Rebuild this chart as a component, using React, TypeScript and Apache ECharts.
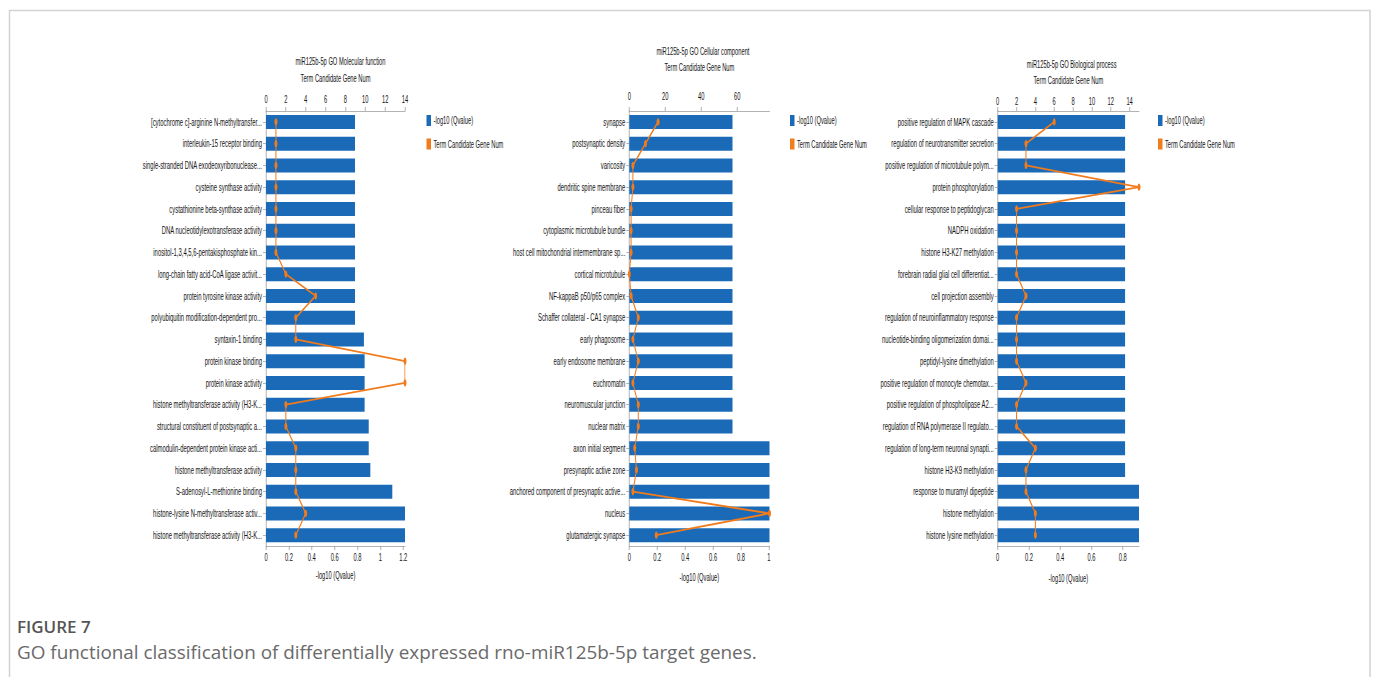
import React, { useEffect, useRef } from "react";
import * as echarts from "echarts";

// ---------- data ----------
const BAR_NAME = "-log10 (Qvalue)";
const LINE_NAME = "Term Candidate Gene Num";

const mfTitle = "miR125b-5p GO Molecular function";
const mfTerms = [
  "[cytochrome c]-arginine N-methyltransfer...",
  "interleukin-15 receptor binding",
  "single-stranded DNA exodeoxyribonuclease...",
  "cysteine synthase activity",
  "cystathionine beta-synthase activity",
  "DNA nucleotidylexotransferase activity",
  "inositol-1,3,4,5,6-pentakisphosphate kin...",
  "long-chain fatty acid-CoA ligase activit...",
  "protein tyrosine kinase activity",
  "polyubiquitin modification-dependent pro...",
  "syntaxin-1 binding",
  "protein kinase binding",
  "protein kinase activity",
  "histone methyltransferase activity (H3-K...",
  "structural constituent of postsynaptic a...",
  "calmodulin-dependent protein kinase acti...",
  "histone methyltransferase activity",
  "S-adenosyl-L-methionine binding",
  "histone-lysine N-methyltransferase activ...",
  "histone methyltransferase activity (H3-K...",
];
const mfQ = [0.778, 0.778, 0.778, 0.778, 0.778, 0.778, 0.778, 0.778, 0.778, 0.778, 0.856, 0.862, 0.862, 0.862, 0.898, 0.898, 0.912, 1.104, 1.215, 1.215];
const mfGenes = [1, 1, 1, 1, 1, 1, 1, 2, 5, 3, 3, 14, 14, 2, 2, 3, 3, 3, 4, 3];

const ccTitle = "miR125b-5p GO Cellular component";
const ccTerms = [
  "synapse",
  "postsynaptic density",
  "varicosity",
  "dendritic spine membrane",
  "pinceau fiber",
  "cytoplasmic microtubule bundle",
  "host cell mitochondrial intermembrane sp...",
  "cortical microtubule",
  "NF-kappaB p50/p65 complex",
  "Schaffer collateral - CA1 synapse",
  "early phagosome",
  "early endosome membrane",
  "euchromatin",
  "neuromuscular junction",
  "nuclear matrix",
  "axon initial segment",
  "presynaptic active zone",
  "anchored component of presynaptic active...",
  "nucleus",
  "glutamatergic synapse",
];
const ccQ = [0.739, 0.739, 0.739, 0.739, 0.739, 0.739, 0.739, 0.739, 0.739, 0.739, 0.739, 0.739, 0.739, 0.739, 0.739, 1.004, 1.004, 1.004, 1.004, 1.004];
const ccGenes = [16, 9, 2, 2, 1, 1, 1, 0, 1, 5, 2, 5, 2, 5, 5, 3, 4, 2, 78, 15];

const bpTitle = "miR125b-5p GO Biological process";
const bpTerms = [
  "positive regulation of MAPK cascade",
  "regulation of neurotransmitter secretion",
  "positive regulation of microtubule polym...",
  "protein phosphorylation",
  "cellular response to peptidoglycan",
  "NADPH oxidation",
  "histone H3-K27 methylation",
  "forebrain radial glial cell differentiat...",
  "cell projection assembly",
  "regulation of neuroinflammatory response",
  "nucleotide-binding oligomerization domai...",
  "peptidyl-lysine dimethylation",
  "positive regulation of monocyte chemotax...",
  "positive regulation of phospholipase A2...",
  "regulation of RNA polymerase II regulato...",
  "regulation of long-term neuronal synapti...",
  "histone H3-K9 methylation",
  "response to muramyl dipeptide",
  "histone methylation",
  "histone lysine methylation",
];
const bpQ = [0.815, 0.815, 0.815, 0.815, 0.815, 0.815, 0.815, 0.815, 0.815, 0.815, 0.815, 0.815, 0.815, 0.815, 0.815, 0.815, 0.815, 0.904, 0.904, 0.904];
const bpGenes = [6, 3, 3, 15, 2, 2, 2, 2, 3, 2, 2, 2, 3, 2, 2, 4, 3, 3, 4, 4];

const captionHead = "FIGURE 7";
const captionText = "GO functional classification of differentially expressed rno-miR125b-5p target genes.";

// ---------- layout (chart is drawn at 2x width, then squeezed by scaleX 0.5) ----------
const SX = 2;
const FONT = "'Liberation Sans', Arial, sans-serif";
const FS = 11.5;
const FS_CAT = 11.8;
const TXT = "#141414";
const AXIS = "#9a9a9a";
const BLUE = "#1a6ab7";
const ORANGE = "#f27b1c";

const panels = [
  {
    title: mfTitle, terms: mfTerms, q: mfQ, genes: mfGenes,
    titleX: 340.5, titleY: 61.7, left: 266, right: 405,
    topInterval: 2, topLabelMargin: 6, topNameGap: 27, bottomNameGap: 23, legendX: 426.5,
  },
  {
    title: ccTitle, terms: ccTerms, q: ccQ, genes: ccGenes,
    titleX: 703, titleY: 51.5, left: 629.3, right: 769.5,
    topInterval: 20, topLabelMargin: 8.5, topNameGap: 37.5, bottomNameGap: 25, legendX: 790,
  },
  {
    title: bpTitle, terms: bpTerms, q: bpQ, genes: bpGenes,
    titleX: 1071.7, titleY: 64, left: 997.7, right: 1139,
    topInterval: 2, topLabelMargin: 3.5, topNameGap: 25, bottomNameGap: 26, legendX: 1158,
  },
];

const GRID_TOP = 111;
const GRID_BOTTOM = 546;

function endsOnTick(max: number, interval: number) {
  const r = max / interval;
  return Math.abs(r - Math.round(r)) < 1e-6;
}

function buildOption() {
  const grid: any[] = [];
  const xAxis: any[] = [];
  const yAxis: any[] = [];
  const series: any[] = [];
  const legend: any[] = [];
  const graphic: any[] = [];

  panels.forEach((p, i) => {
    grid.push({
      left: p.left * SX,
      width: (p.right - p.left) * SX,
      top: GRID_TOP,
      height: GRID_BOTTOM - GRID_TOP,
      containLabel: false,
    });
    const qMax = Math.max(...p.q);
    const gMax = Math.max(...p.genes);
    const labelStyle = { fontFamily: FONT, fontSize: FS, color: TXT };
    // bottom value axis (bars)
    xAxis.push({
      type: "value",
      gridIndex: i,
      position: "bottom",
      min: 0,
      max: qMax,
      interval: 0.2,
      name: BAR_NAME,
      nameLocation: "middle",
      nameGap: p.bottomNameGap,
      nameTextStyle: labelStyle,
      axisLine: { show: true, onZero: false, lineStyle: { color: AXIS, width: 1 } },
      axisTick: { show: true, length: 4, lineStyle: { color: AXIS } },
      axisLabel: { ...labelStyle, margin: 5, showMaxLabel: endsOnTick(qMax, 0.2) },
      splitLine: { show: false },
    });
    // top value axis (line)
    xAxis.push({
      type: "value",
      gridIndex: i,
      position: "top",
      min: 0,
      max: gMax,
      interval: p.topInterval,
      name: LINE_NAME,
      nameLocation: "middle",
      nameGap: p.topNameGap,
      nameTextStyle: labelStyle,
      axisLine: { show: true, onZero: false, lineStyle: { color: AXIS, width: 1 } },
      axisTick: { show: true, length: 4, lineStyle: { color: AXIS } },
      axisLabel: { ...labelStyle, margin: p.topLabelMargin, showMaxLabel: endsOnTick(gMax, p.topInterval) },
      splitLine: { show: false },
    });
    const terms = p.terms;
    yAxis.push({
      type: "category",
      gridIndex: i,
      inverse: true,
      data: terms.map((_, k) => String(k)),
      axisLine: { show: true, lineStyle: { color: AXIS, width: 1 } },
      axisTick: { show: true, alignWithLabel: true, length: 6, lineStyle: { color: AXIS } },
      axisLabel: {
        ...labelStyle,
        fontSize: FS_CAT,
        margin: 8,
        interval: 0,
        formatter: (v: string) => terms[Number(v)],
      },
      splitLine: { show: false },
    });
    series.push({
      type: "bar",
      name: BAR_NAME,
      xAxisIndex: i * 2,
      yAxisIndex: i,
      data: p.q,
      barWidth: 14,
      itemStyle: { color: BLUE },
      z: 2,
    });
    series.push({
      type: "line",
      name: LINE_NAME,
      xAxisIndex: i * 2 + 1,
      yAxisIndex: i,
      data: p.genes,
      symbol: "circle",
      symbolSize: [6, 7],
      itemStyle: { color: ORANGE },
      lineStyle: { color: ORANGE, width: 2 },
      z: 5,
    });
    legend.push({
      data: [BAR_NAME, LINE_NAME],
      orient: "vertical",
      left: p.legendX * SX,
      top: 114.5,
      padding: 0,
      itemWidth: 9,
      itemHeight: 11,
      itemGap: 11.5,
      icon: "rect",
      textStyle: { fontFamily: FONT, fontSize: FS, color: TXT },
      selectedMode: false,
    });
    graphic.push({
      type: "text",
      x: p.titleX * SX,
      y: p.titleY,
      style: {
        text: p.title,
        fontFamily: FONT,
        fontSize: FS,
        fill: TXT,
        align: "center",
        verticalAlign: "middle",
      },
    });
  });

  return {
    animation: false,
    backgroundColor: "transparent",
    grid,
    xAxis,
    yAxis,
    series,
    legend,
    graphic,
  };
}

function buildCaptionOption() {
  return {
    animation: false,
    backgroundColor: "#ffffff",
    graphic: [
      {
        type: "polyline",
        shape: { points: [[9.5, 677], [9.5, 10.5], [1370, 10.5], [1370, 677]] },
        style: { stroke: "#d2d2d2", lineWidth: 1.5, fill: null },
      },
      {
        type: "text",
        x: 17,
        y: 626.5,
        style: {
          text: captionHead,
          fontFamily: "'Open Sans', 'Noto Sans', sans-serif",
          fontSize: 17,
          fontWeight: 600,
          fill: "#555555",
          align: "left",
          verticalAlign: "middle",
        },
      },
      {
        type: "text",
        x: 17,
        y: 652,
        style: {
          text: captionText,
          fontFamily: "'Open Sans', 'Noto Sans', sans-serif",
          fontSize: 18.9,
          fill: "#6a6a6a",
          align: "left",
          verticalAlign: "middle",
        },
      },
    ],
  };
}

export default function App() {
  const chartRef = useRef<HTMLDivElement>(null);
  const capRef = useRef<HTMLDivElement>(null);

  useEffect(() => {
    const cap = echarts.init(capRef.current as HTMLDivElement, undefined, { renderer: "svg" });
    cap.setOption(buildCaptionOption());
    const chart = echarts.init(chartRef.current as HTMLDivElement, undefined, { renderer: "svg" });
    chart.setOption(buildOption());
    return () => {
      chart.dispose();
      cap.dispose();
    };
  }, []);

  return (
    <div style={{ position: "absolute", left: 0, top: 0, width: 1376, height: 677, overflow: "hidden", background: "#fff" }}>
      <div ref={capRef} style={{ position: "absolute", left: 0, top: 0, width: 1376, height: 677 }} />
      <div
        ref={chartRef}
        style={{
          position: "absolute",
          left: 0,
          top: 0,
          width: 1376 * SX,
          height: 600,
          transform: `scaleX(${1 / SX})`,
          transformOrigin: "0 0",
        }}
      />
    </div>
  );
}
